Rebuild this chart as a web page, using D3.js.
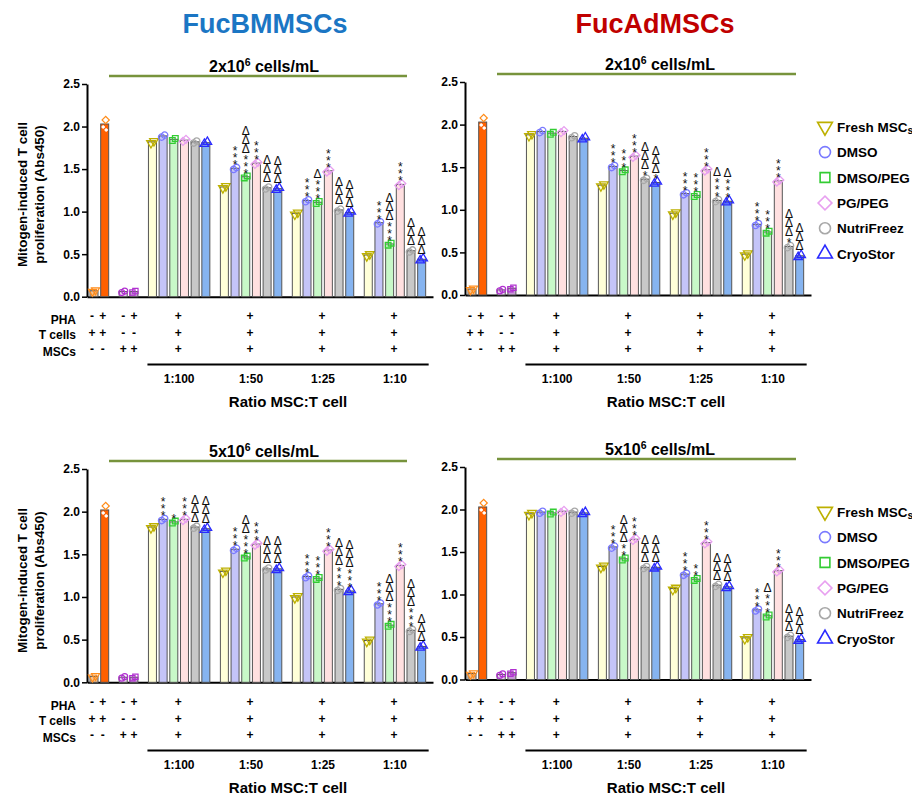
<!DOCTYPE html>
<html><head><meta charset="utf-8">
<script src="https://cdn.jsdelivr.net/npm/d3@7"></script>
<style>
body{margin:0;background:#fff}
svg{display:block}
text{font-family:"Liberation Sans",Arial,Helvetica,sans-serif}
</style>
</head><body>
<svg id="c" width="912" height="796"></svg>
<script>
// ---------------- DATA ----------------
const series = ["Fresh MSCs","DMSO","DMSO/PEG","PG/PEG","NutriFreez","CryoStor"];
const ratios = ["1:100","1:50","1:25","1:10"];
const yTicks = [0,0.5,1,1.5,2,2.5];
const rowLabels = ["PHA","T cells","MSCs"];
// sign table for the 4 control bars: rows PHA, T cells, MSCs
const ctrlSigns = [["-","+","-","+"],["+","+","-","-"],["-","-","+","+"]];
const groupSigns = ["+","+","+"];
const titles = ["FucBMMSCs","FucAdMSCs"];
const subtitles = ["2x10","5x10"];

// controls: T cells, T cells+PHA, MSCs, MSCs+PHA
const bm2Controls = [0.07, 2.03, 0.06, 0.06];
const bm2Values = [[1.82,1.89,1.85,1.84,1.82,1.81],[1.29,1.51,1.41,1.57,1.28,1.27],[0.98,1.13,1.11,1.48,1.02,0.99],[0.49,0.87,0.62,1.32,0.54,0.44]];
const bm2Stars  = [[0,0,0,0,0,0],[0,3,3,3,0,0],[0,3,3,3,0,0],[0,3,3,3,0,0]];
const bm2Deltas = [[0,0,0,0,0,0],[0,0,3,0,3,3],[0,0,1,0,3,3],[0,0,3,0,3,3]];

const ad2Controls = [0.07, 2.03, 0.06, 0.08];
const ad2Values = [[1.88,1.92,1.90,1.92,1.86,1.84],[1.29,1.51,1.46,1.63,1.36,1.32],[0.96,1.19,1.17,1.47,1.11,1.10],[0.48,0.83,0.74,1.34,0.57,0.46]];
const ad2Stars  = [[0,0,0,0,0,0],[0,3,3,3,1,1],[0,3,3,3,3,3],[0,3,3,3,1,0]];
const ad2Deltas = [[0,0,0,0,0,0],[0,0,0,0,3,3],[0,0,0,0,1,1],[0,0,0,0,3,3]];

const bm5Controls = [0.07, 2.02, 0.06, 0.06];
const bm5Values = [[1.82,1.91,1.88,1.91,1.82,1.80],[1.30,1.56,1.47,1.62,1.33,1.33],[1.00,1.24,1.22,1.55,1.09,1.07],[0.49,0.92,0.67,1.37,0.61,0.42]];
const bm5Stars  = [[0,3,1,3,0,0],[0,3,3,3,0,0],[0,3,3,3,3,3],[0,3,3,3,3,0]];
const bm5Deltas = [[0,0,0,0,3,3],[0,0,2,0,3,3],[0,0,0,0,3,3],[0,0,3,0,3,3]];

const ad5Controls = [0.07, 2.03, 0.06, 0.08];
const ad5Values = [[1.95,1.97,1.96,1.98,1.97,1.96],[1.33,1.56,1.42,1.65,1.32,1.32],[1.07,1.24,1.18,1.61,1.11,1.09],[0.49,0.82,0.75,1.28,0.51,0.47]];
const ad5Stars  = [[0,0,0,0,0,0],[0,3,2,3,0,0],[0,3,2,3,0,0],[0,3,3,3,0,0]];
const ad5Deltas = [[0,0,0,0,0,0],[0,0,3,0,3,3],[0,0,0,0,3,3],[0,0,1,0,3,3]];

// ---------------- STYLE ----------------
const fills   = ["#ffffd8","#c4c4f8","#c8f8c8","#ffe0e0","#c8c8c8","#86b4f0"];
const strokes = ["#bdb000","#7a7aff","#33cc33","#e8a0f0","#a8a8a8","#2a2aff"];
const shapes  = ["tri-down","circle","square","diamond","circle","tri-up"];
const ctrlFills = ["#f4c090","#ff6000","#ead0f0","#c89ad8"];
const ctrlMark  = ["#ff8c1a","#ff8c1a","#b030d0","#b030d0"];
const ctrlShape = ["tri-down","diamond","circle","square"];

const svg = d3.select("#c");

function symPath(shape, size){
  let t = d3.symbolCircle, rot = 0;
  if(shape==="square") t = d3.symbolSquare;
  if(shape==="diamond"){ t = d3.symbolSquare; rot = 45; }
  if(shape==="tri-up") t = d3.symbolTriangle;
  if(shape==="tri-down"){ t = d3.symbolTriangle; rot = 180; }
  return {d: d3.symbol().type(t).size(size)(), rot};
}
function drawSym(g, shape, x, y, size, color, sw, fill){
  const s = symPath(shape, size);
  g.append("path").attr("d", s.d)
    .attr("transform", `translate(${x},${y}) rotate(${s.rot})`)
    .attr("fill", fill || "none").attr("stroke", color).attr("stroke-width", sw);
}

function drawPanel(p){
  const g = svg.append("g");
  const y = d3.scaleLinear().domain([0,2.5]).range([p.y0, p.y25]);
  const step = 10.68, gapExtra = 0.736;
  const slot = d3.scaleLinear().domain([0,1]).range([p.ax+7, p.ax+7+step]);
  const pos = (i,c) => slot(i + c*gapExtra);
  const bw = 8;

  // y axis
  const ya = g.append("g").attr("transform",`translate(${p.ax},0)`)
    .call(d3.axisLeft(y).tickValues(yTicks).tickFormat(d3.format(".1f")).tickSize(5).tickSizeOuter(0).tickPadding(2));
  ya.selectAll("text").attr("font-size",12).attr("font-weight","bold").attr("fill","#000");
  ya.selectAll("line").attr("stroke","#000").attr("stroke-width",1.5);
  ya.select(".domain").attr("stroke","#000").attr("stroke-width",2);
  // x axis baseline
  const xs = d3.scaleLinear().domain([0,1]).range([p.ax, p.ax+346]);
  const xa = g.append("g").attr("transform",`translate(0,${p.y0})`)
    .call(d3.axisBottom(xs).tickValues([]).tickSizeOuter(0));
  xa.select(".domain").attr("stroke","#000").attr("stroke-width",2);

  // control bars
  p.controls.forEach((v,i)=>{
    const cx = pos(i, i<2?0:1);
    g.append("rect").attr("x",cx-bw/2).attr("width",bw)
      .attr("y",y(v)).attr("height",y(0)-y(v))
      .attr("fill",ctrlFills[i]).attr("stroke","#555").attr("stroke-width",1);
    if(i===1){
      drawSym(g, "diamond", cx+1, y(v)-4, 26, ctrlMark[i], 1.2);
      drawSym(g, "circle", cx-1.5, y(v)+3, 5, "#fff", 1, "#fff");
      drawSym(g, "circle", cx+1.5, y(v)+6, 5, "#fff", 1, "#fff");
    } else {
      [[-1.5,1],[1.5,-0.5]].forEach(o=>drawSym(g, ctrlShape[i], cx+o[0], y(v)+o[1], 28, ctrlMark[i], 1.2));
    }
  });
  // group bars
  p.values.forEach((grp,gi)=>{
    grp.forEach((v,si)=>{
      const cx = pos(4+gi*6+si, 2+gi);
      const top = y(v);
      g.append("rect").attr("x",cx-bw/2).attr("width",bw)
        .attr("y",top).attr("height",y(0)-top)
        .attr("fill",fills[si]).attr("stroke","#555").attr("stroke-width",1);
      [[-1.5,1.2],[1.5,-0.8]].forEach(o=>drawSym(g, shapes[si], cx+o[0], top+o[1], 32, strokes[si], 1.3));
      // annotations: a single text element per bar, stacked upward with upright glyphs
      const ns = p.stars[gi][si], nd = p.deltas[gi][si];
      if(ns+nd===0) return;
      const xsL = [], ysL = [];
      let str = "";
      let last = null;
      for(let k=0;k<ns;k++){
        const c = top - 6 - 7*k; last = c;
        xsL.push((top - c - 6.9).toFixed(2)); ysL.push(-2.3); str += "*";
      }
      const base = last===null ? top-5 : last-3.5;
      for(let k=0;k<nd;k++){
        const c = base - 5 - 9*k;
        xsL.push((top - c - 4.5).toFixed(2)); ysL.push(-4.1); str += "\u0394";
      }
      g.append("text")
        .attr("transform",`translate(${cx},${top}) rotate(-90)`)
        .attr("x", xsL.join(" ")).attr("y", ysL.join(" "))
        .attr("rotate","90")
        .attr("font-size",12).attr("fill","#111").text(str);
    });
  });

  // subtitle + green line
  const st = g.append("text").attr("x",p.subX).attr("y",p.y25-12).attr("text-anchor","middle")
    .attr("font-size",16).attr("font-weight","bold");
  st.append("tspan").text(p.sub);
  st.append("tspan").attr("font-size",10.5).attr("dy",-6).text("6");
  st.append("tspan").attr("dy",6).text(" cells/mL");
  g.append("line").attr("x1",p.lineX1).attr("x2",p.lineX2).attr("y1",p.y25-8).attr("y2",p.y25-8)
    .attr("stroke","#77933c").attr("stroke-width",2.5);

  // table
  const tb = p.tb;
  const rowSign = [19,36,51.5], rowLab = [22.5,37.5,54.5];
  rowLabels.forEach((r,ri)=>{
    if(p.showLabels){
      g.append("text").attr("x",p.ax-11).attr("y",tb+rowLab[ri]+4.3).attr("text-anchor","end")
        .attr("font-size",12).attr("font-weight","bold").text(r);
    }
    ctrlSigns[ri].forEach((s,i)=>{
      const cx = pos(i, i<2?0:1) - (i<2?2:0);
      g.append("text").attr("x",cx).attr("y",tb+rowSign[ri]+4.2).attr("text-anchor","middle")
        .attr("font-size",12).attr("font-weight","bold").text(s);
    });
    ratios.forEach((rr,gi)=>{
      const cx = (pos(4+gi*6,2+gi)+pos(4+gi*6+5,2+gi))/2 - 1;
      g.append("text").attr("x",cx).attr("y",tb+rowSign[ri]+4.2).attr("text-anchor","middle")
        .attr("font-size",12).attr("font-weight","bold").text(groupSigns[ri]);
    });
  });
  const gx1 = pos(4,2)-5, gx2 = pos(27,5)+7;
  g.append("line").attr("x1",gx1).attr("x2",gx2).attr("y1",tb+67.5).attr("y2",tb+67.5)
    .attr("stroke","#000").attr("stroke-width",2);
  ratios.forEach((rr,gi)=>{
    const cx = (pos(4+gi*6,2+gi)+pos(4+gi*6+5,2+gi))/2;
    g.append("text").attr("x",cx).attr("y",tb+82+4.3).attr("text-anchor","middle")
      .attr("font-size",12).attr("font-weight","bold").text(rr);
  });
  g.append("text").attr("x",(gx1+gx2)/2).attr("y",tb+104.5+5.5).attr("text-anchor","middle")
    .attr("font-size",15).attr("font-weight","bold").text("Ratio MSC:T cell");

  // y label
  if(p.showLabels){
    const yl = g.append("text").attr("transform",`translate(27,${p.yLabC}) rotate(-90)`)
      .attr("text-anchor","middle").attr("font-size",13.4).attr("font-weight","bold");
    yl.append("tspan").attr("x",0).attr("dy",0).text("Mitogen-induced T cell");
    yl.append("tspan").attr("x",0).attr("dy",17).text("proliferation (Abs450)");
  }
  // legend
  if(p.legend){
    series.forEach((s,si)=>{
      const ly = p.legY + si*25.4;
      drawSym(g, shapes[si], 825, ly, 95, strokes[si], 1.6);
      const t = g.append("text").attr("x",837).attr("y",ly+5).attr("font-size",13.5).attr("font-weight","bold");
      if(si===0){
        t.append("tspan").text("Fresh MSC");
        t.append("tspan").attr("font-size",10.5).attr("dy",2).text("s");
      } else t.text(s);
    });
  }
}

// titles
svg.append("text").attr("x",265).attr("y",33).attr("text-anchor","middle")
  .attr("font-size",27).attr("font-weight","bold").attr("fill","#1b76c4").text(titles[0]);
svg.append("text").attr("x",655).attr("y",33).attr("text-anchor","middle")
  .attr("font-size",27).attr("font-weight","bold").attr("fill","#c00000").text(titles[1]);

drawPanel({ax:87, y0:296.7, y25:84, controls:bm2Controls, values:bm2Values, stars:bm2Stars, deltas:bm2Deltas,
  sub:subtitles[0], subX:264, lineX1:109, lineX2:407, tb:297, showLabels:true, yLabC:194.5, legend:false});
drawPanel({ax:465, y0:295, y25:82, controls:ad2Controls, values:ad2Values, stars:ad2Stars, deltas:ad2Deltas,
  sub:subtitles[0], subX:660, lineX1:497, lineX2:796, tb:297, showLabels:false, legend:true, legY:126.7});
drawPanel({ax:87, y0:682.3, y25:469, controls:bm5Controls, values:bm5Values, stars:bm5Stars, deltas:bm5Deltas,
  sub:subtitles[1], subX:264, lineX1:109, lineX2:407, tb:683, showLabels:true, yLabC:580.5, legend:false});
drawPanel({ax:465, y0:679.5, y25:467, controls:ad5Controls, values:ad5Values, stars:ad5Stars, deltas:ad5Deltas,
  sub:subtitles[1], subX:660, lineX1:497, lineX2:796, tb:683, showLabels:false, legend:true, legY:511.7});
</script>
</body></html>
